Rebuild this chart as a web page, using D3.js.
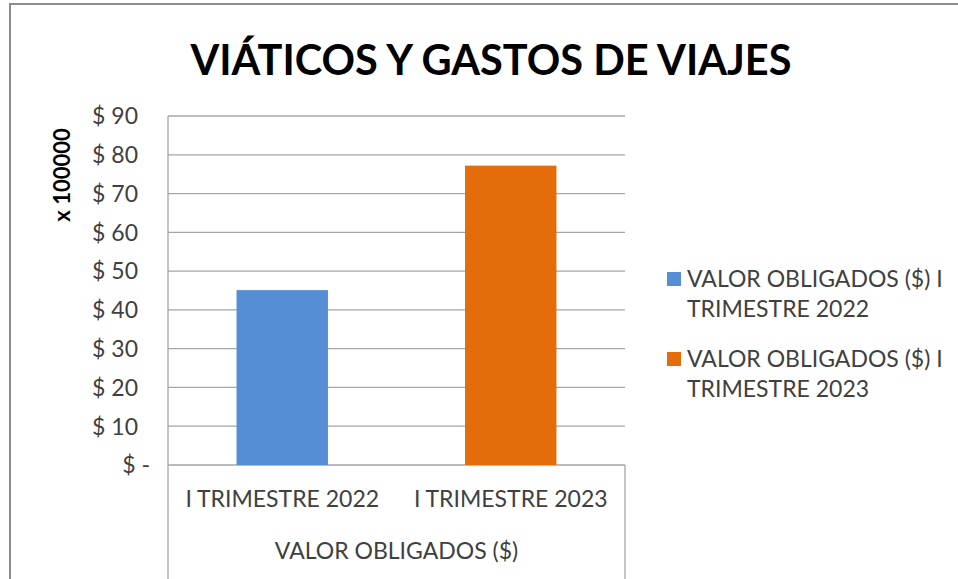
<!DOCTYPE html>
<html>
<head>
<meta charset="utf-8">
<script src="https://cdn.jsdelivr.net/npm/d3@7"></script>
<style>
  body { margin: 0; background: #fff; }
  svg { display: block; font-family: Lato, "Open Sans", sans-serif; }
</style>
</head>
<body>
<div id="chart"></div>
<script>
var title = "VIÁTICOS Y GASTOS DE VIAJES";
var categories = ["I TRIMESTRE 2022", "I TRIMESTRE 2023"];
var groupLabel = "VALOR OBLIGADOS ($)";
var seriesNames = [
  ["VALOR OBLIGADOS ($) I", "TRIMESTRE 2022"],
  ["VALOR OBLIGADOS ($) I", "TRIMESTRE 2023"]
];
var values = [45.1, 77.2];   // x 100000
var colors = ["#558ed5", "#e46c0a"];
var yTicks = [0, 10, 20, 30, 40, 50, 60, 70, 80, 90];
var yLabel = "x 100000";

var width = 958, height = 579;
var plot = {left: 168, right: 625, top: 116, bottom: 465};

var svg = d3.select("#chart").append("svg")
  .attr("width", width)
  .attr("height", height);

// outer frame of the chart object (cut off on right and bottom)
svg.append("rect")
  .attr("x", 10).attr("y", 4)
  .attr("width", 1000).attr("height", 700)
  .attr("fill", "#fff")
  .attr("stroke", "#8c8c8c")
  .attr("stroke-width", 2);

var x = d3.scaleBand()
  .domain(categories)
  .range([plot.left, plot.right])
  .paddingInner(0.6)
  .paddingOuter(0.3);

var y = d3.scaleLinear()
  .domain([0, 90])
  .range([plot.bottom, plot.top]);

// gridlines
svg.append("g")
  .selectAll("line")
  .data(yTicks)
  .enter().append("line")
  .attr("x1", plot.left)
  .attr("x2", plot.right)
  .attr("y1", function(d) { return y(d); })
  .attr("y2", function(d) { return y(d); })
  .attr("stroke", "#a6a6a6")
  .attr("stroke-width", 1.3);

// y axis
var yAxis = d3.axisLeft(y)
  .tickValues(yTicks)
  .tickSize(0)
  .tickPadding(30)
  .tickFormat(function(d) { return d === 0 ? "$ -" : "$ " + d; });

var yg = svg.append("g")
  .attr("transform", "translate(" + plot.left + ",0)")
  .call(yAxis)
  .attr("font-family", null)
  .attr("font-size", null);
yg.select(".domain").remove();
yg.selectAll("text")
  .attr("fill", "#404040")
  .style("font-size", "23px")
  .attr("dy", "0.34em")
  .attr("dx", function(d) { return d === 0 ? 12 : 0; });

// vertical axis line, running down through the category area
svg.append("line")
  .attr("x1", plot.left).attr("x2", plot.left)
  .attr("y1", plot.top).attr("y2", height)
  .attr("stroke", "#a6a6a6")
  .attr("stroke-width", 1.3);
svg.append("line")
  .attr("x1", plot.right).attr("x2", plot.right)
  .attr("y1", plot.bottom).attr("y2", height)
  .attr("stroke", "#a6a6a6")
  .attr("stroke-width", 1.3);

// bars
svg.append("g")
  .selectAll("rect")
  .data(values)
  .enter().append("rect")
  .attr("x", function(d, i) { return x(categories[i]); })
  .attr("width", x.bandwidth())
  .attr("y", function(d) { return y(d); })
  .attr("height", function(d) { return y(0) - y(d); })
  .attr("fill", function(d, i) { return colors[i]; });

// category labels
var xAxis = d3.axisBottom(x).tickSize(0).tickPadding(0);
var xg = svg.append("g")
  .attr("transform", "translate(0," + plot.bottom + ")")
  .call(xAxis)
  .attr("font-family", null)
  .attr("font-size", null);
xg.select(".domain").remove();
xg.selectAll("text")
  .attr("fill", "#404040")
  .attr("dy", null)
  .attr("y", 42)
  .style("font-size", "23px");

svg.append("text")
  .attr("x", (plot.left + plot.right) / 2)
  .attr("y", 559)
  .attr("text-anchor", "middle")
  .attr("fill", "#404040")
  .style("font-size", "23px")
  .text(groupLabel);

// title
svg.append("text")
  .attr("x", 491)
  .attr("y", 75)
  .attr("text-anchor", "middle")
  .attr("fill", "#000")
  .style("font-size", "41.5px")
  .style("font-weight", "bold")
  .text(title);

// y axis label
svg.append("text")
  .attr("transform", "translate(70,175) rotate(-90)")
  .attr("text-anchor", "middle")
  .attr("fill", "#000")
  .style("font-size", "22px")
  .style("font-weight", "bold")
  .text(yLabel);

// legend
var legend = svg.append("g")
  .selectAll("g")
  .data(seriesNames)
  .enter().append("g")
  .attr("transform", function(d, i) { return "translate(667," + (272 + i * 80) + ")"; });
legend.append("rect")
  .attr("width", 14).attr("height", 14)
  .attr("fill", function(d, i) { return colors[i]; });
legend.append("text")
  .attr("x", 20)
  .attr("fill", "#404040")
  .style("font-size", "23px")
  .selectAll("tspan")
  .data(function(d) { return d; })
  .enter().append("tspan")
  .attr("x", 20)
  .attr("y", function(d, j) { return 15 + j * 30; })
  .text(function(d) { return d; });
</script>
</body>
</html>
